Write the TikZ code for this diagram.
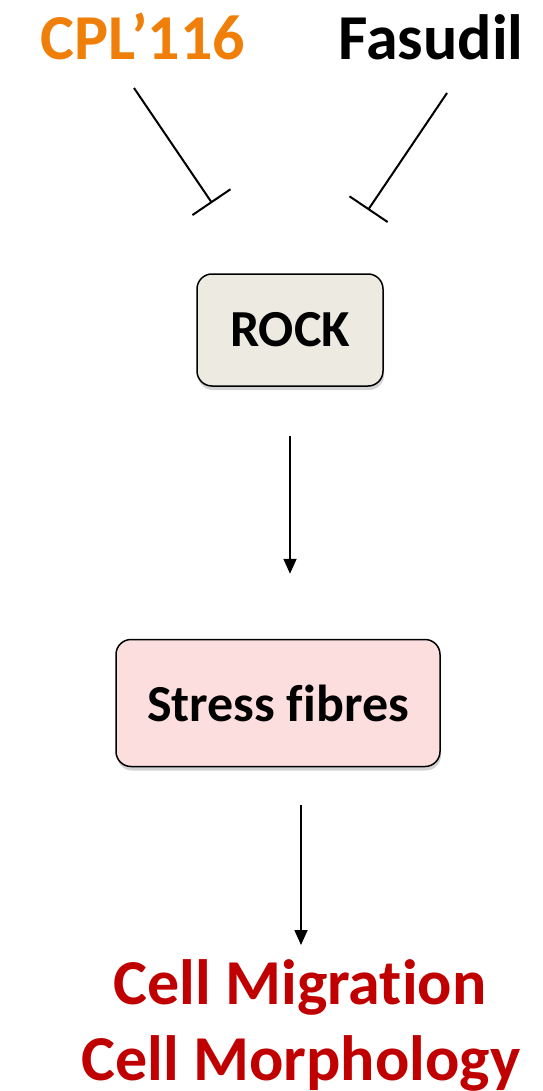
\documentclass[tikz,border=0pt]{standalone}
\usepackage{fontspec}
\setmainfont[Ligatures={NoCommon}]{Carlito}
\usetikzlibrary{arrows.meta,shadows}
\definecolor{cplorange}{HTML}{F07F0A}
\definecolor{effred}{HTML}{C00000}
\definecolor{rockfill}{HTML}{EDEBE1}
\definecolor{sffill}{HTML}{FDDEDE}
\tikzset{
  lbl/.style={font=\fontsize{64}{77}\selectfont\bfseries, inner sep=0pt, anchor=base},
  boxtext/.style={font=\fontsize{52}{62}\selectfont\bfseries},
  pbox/.style={draw=black, line width=1.5pt, rounded corners=15pt, inner sep=0pt,
    drop shadow={shadow xshift=1pt, shadow yshift=-4pt, opacity=0.35, fill=gray}},
  inhib/.style={line width=2pt, -{Bar[width=46pt,line width=2pt]}},
  arr/.style={line width=1.8pt, -{Triangle[length=15pt,width=13pt]}},
}
\begin{document}
\begin{tikzpicture}[x=1pt,y=-1pt]
\useasboundingbox (0,0) rectangle (542,1091);
\node[lbl, text=cplorange] (cpl) at (143,60) {CPL’116};
\node[lbl, text=black] (fas) at (431,60) {Fasudil};
\node[pbox, boxtext, fill=rockfill, minimum width=186pt, minimum height=112pt] (rock) at (290,330) {ROCK};
\node[pbox, boxtext, fill=sffill, minimum width=324pt, minimum height=127pt] (sf) at (278,703) {Stress fibres};
\node[lbl, text=effred] (mig) at (300,1004) {Cell Migration};
\node[lbl, text=effred] (morph) at (301,1080) {Cell Morphology};
\coordinate (i1s) at (134,88);
\coordinate (i1e) at (212,203);
\coordinate (i2s) at (447,93);
\coordinate (i2e) at (368,210);
\draw[inhib] (i1s) -- (i1e);
\draw[inhib] (i2s) -- (i2e);
\draw[arr, shorten <=49pt, shorten >=65pt] (rock.south) -- (rock.south |- sf.north);
\coordinate (a2s) at (301,805);
\coordinate (a2e) at (301,945);
\draw[arr] (a2s) -- (a2e);
\end{tikzpicture}
\end{document}
